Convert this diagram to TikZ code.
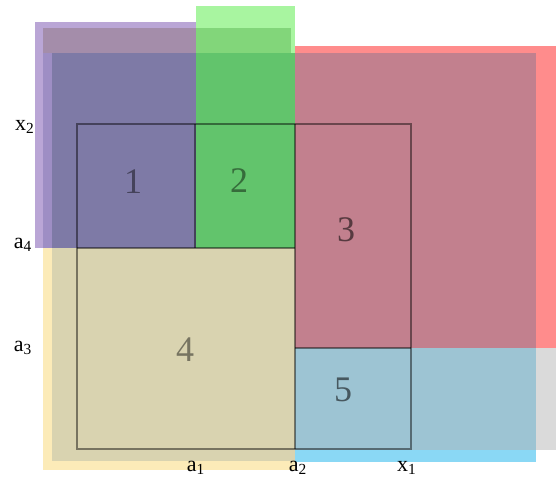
\documentclass[tikz,border=0pt]{standalone}
\usepackage{fontspec}
\setmainfont{Liberation Serif}
\usetikzlibrary{positioning}
\definecolor{purpleLight}{HTML}{BAA6D6}
\definecolor{purpleMid}{HTML}{A48DAA}
\definecolor{purpleSide}{HTML}{9E8EC4}
\definecolor{purpleDark}{HTML}{7E7AA6}
\definecolor{greenLight}{HTML}{A8F5A0}
\definecolor{greenMid}{HTML}{82D67A}
\definecolor{greenDark}{HTML}{62C46C}
\definecolor{redLight}{HTML}{FF8C8C}
\definecolor{redDark}{HTML}{C2808E}
\definecolor{yellowLight}{HTML}{FCEBB8}
\definecolor{yellowDark}{HTML}{D9D3B0}
\definecolor{blueLight}{HTML}{8AD8F5}
\definecolor{blueDark}{HTML}{9DC4D3}
\definecolor{grayStrip}{HTML}{DADADA}

\begin{document}
\begin{tikzpicture}[x=0.5pt, y=-0.5pt,
  gridline/.style={draw=black, draw opacity=0.45, line width=1.4},
  numlabel/.style={font=\fontsize{18}{18}\selectfont, inner sep=0pt},
  axislabel/.style={font=\fontsize{11}{11}\selectfont, inner sep=1pt}
]
\useasboundingbox (0,0) rectangle (556,487);

% light layers
\fill[purpleLight] (35,22) rectangle (196,248);
\fill[greenLight] (196,6) rectangle (295,248);
\fill[redLight] (295,46) rectangle (556,348);
\fill[yellowLight] (43,248) rectangle (295,470);
\fill[blueLight] (295,348) rectangle (536,462);
\fill[grayStrip] (536,348) rectangle (556,450);

% shaded layers
\fill[purpleMid] (43,28) rectangle (196,53);
\fill[purpleSide] (43,53) rectangle (52,248);
\fill[purpleDark] (52,53) rectangle (196,248);
\fill[greenMid] (196,28) rectangle (291,53);
\fill[greenDark] (196,53) rectangle (295,248);
\fill[redDark] (295,53) rectangle (536,348);
\fill[yellowDark] (52,248) rectangle (295,461);
\fill[blueDark] (295,348) rectangle (536,450);

% frame and cell borders
\coordinate (frameNW) at (77,124);
\coordinate (frameSE) at (411,449);
\draw[gridline] (frameNW) rectangle (frameSE);
\draw[gridline] (77,248) -- (295,248);
\draw[gridline] (195,124) -- (195,248);
\draw[gridline] (295,124) -- (295,449);
\draw[gridline] (295,348) -- (411,348);

% cell numbers
\node[numlabel, text=purpleDark!55!black] (cellOne) at (133,182) {1};
\node[numlabel, text=greenDark!55!black] (cellTwo) at (239,181) {2};
\node[numlabel, text=redDark!45!black] (cellThree) at (346,230) {3};
\node[numlabel, text=yellowDark!55!black] (cellFour) at (185,350) {4};
\node[numlabel, text=blueDark!45!black] (cellFive) at (343,390) {5};

% axis labels
\node[axislabel] (xTwo) at (25,127) {x\textsubscript{2}};
\node[axislabel] (aFour) at (23,245) {a\textsubscript{4}};
\node[axislabel] (aThree) at (23,348) {a\textsubscript{3}};
\node[axislabel] (aOne) at (196,468) {a\textsubscript{1}};
\node[axislabel] (aTwo) at (298,468) {a\textsubscript{2}};
\node[axislabel] (xOne) at (407,468) {x\textsubscript{1}};
\end{tikzpicture}
\end{document}
